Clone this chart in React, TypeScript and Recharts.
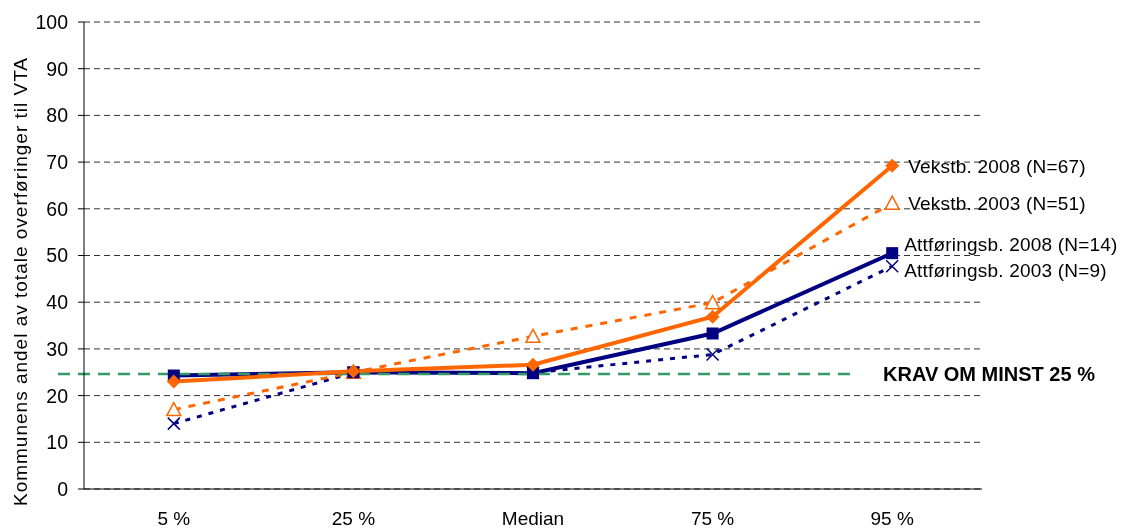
import React from "react";
import {
  CartesianGrid,
  LabelList,
  Line,
  LineChart,
  ReferenceLine,
  XAxis,
  YAxis,
} from "recharts";

const categories = ["5 %", "25 %", "Median", "75 %", "95 %"];
const vekstb2008 = [23.0, 25.2, 26.6, 36.9, 69.2];
const vekstb2003 = [17.0, 25.0, 32.7, 39.9, 61.2];
const attf2008 = [24.3, 25.0, 24.8, 33.3, 50.5];
const attf2003 = [14.0, 24.9, 24.9, 28.8, 47.7];
const seriesNames = [
  "Vekstb. 2008 (N=67)",
  "Vekstb. 2003 (N=51)",
  "Attføringsb. 2008 (N=14)",
  "Attføringsb. 2003 (N=9)",
];
const yTicks = [0, 10, 20, 30, 40, 50, 60, 70, 80, 90, 100];
const requirement = 24.6;
const requirementLabel = "KRAV OM MINST 25 %";
const yLabel = "Kommunens andel av totale overføringer til VTA";

const ORANGE = "#FF6600";
const NAVY = "#000080";
const GREEN = "#339966";
const FONT = "'Liberation Sans', Arial, sans-serif";

const data = categories.map((c, i) => ({
  cat: c,
  pos: i + 0.5,
  v08: vekstb2008[i],
  v03: vekstb2003[i],
  a08: attf2008[i],
  a03: attf2003[i],
}));

const diamond = (p: any) => (
  <polygon
    key={p.key ?? p.index}
    points={`${p.cx},${p.cy - 7} ${p.cx + 7},${p.cy} ${p.cx},${p.cy + 7} ${p.cx - 7},${p.cy}`}
    fill={ORANGE}
  />
);
const triangle = (p: any) => (
  <polygon
    key={p.key ?? p.index}
    points={`${p.cx},${p.cy - 7} ${p.cx + 7},${p.cy + 6} ${p.cx - 7},${p.cy + 6}`}
    fill="#fff"
    stroke={ORANGE}
    strokeWidth={1.5}
  />
);
const square = (p: any) => (
  <rect key={p.key ?? p.index} x={p.cx - 6} y={p.cy - 6} width={12} height={12} fill={NAVY} />
);
const cross = (p: any) => (
  <path
    key={p.key ?? p.index}
    d={`M${p.cx - 6},${p.cy - 6}L${p.cx + 6},${p.cy + 6}M${p.cx + 6},${p.cy - 6}L${p.cx - 6},${p.cy + 6}`}
    stroke={NAVY}
    strokeWidth={1.5}
  />
);

const endLabel = (name: string, dx: number, dy: number) => (props: any) => {
  if (props.index !== categories.length - 1) return null;
  return (
    <text
      x={props.x + dx}
      y={props.y + dy}
      dominantBaseline="central"
      fontSize={19}
      letterSpacing={0.2}
      fontFamily={FONT}
      fill="#000"
    >
      {name}
    </text>
  );
};

export default function App() {
  return (
    <div style={{ position: "fixed", left: 0, top: 0 }}>
      <LineChart
        width={1121}
        height={530}
        data={data}
        margin={{ top: 22, right: 139, left: 0, bottom: 0 }}
      >
        <CartesianGrid vertical={false} stroke="#333" strokeDasharray="6 4" />
        <XAxis
          dataKey="pos"
          type="number"
          domain={[0, 5]}
          ticks={[0, 1, 2, 3, 4, 5]}
          tick={false}
          tickSize={7}
          height={8}
          stroke="#000"
        />
        <XAxis
          xAxisId="labels"
          dataKey="pos"
          type="number"
          domain={[0, 5]}
          ticks={data.map((d) => d.pos)}
          tickFormatter={(v: number) => categories[Math.round(v - 0.5)]}
          axisLine={false}
          tickLine={false}
          tickSize={6}
          tickMargin={8.5}
          height={33}
          tick={{ fontSize: 19, fontFamily: FONT, fill: "#000" }}
        />
        <YAxis
          domain={[0, 100]}
          ticks={yTicks}
          width={84}
          tickSize={6}
          tickMargin={10}
          stroke="#000"
          tick={{ fontSize: 19.5, fontFamily: FONT, fill: "#000" }}
          label={{
            content: (p: any) => {
              const vb = p.viewBox;
              const cx = vb.x + 20;
              const cy = vb.y + vb.height / 2 + 26;
              return (
                <text
                  x={cx}
                  y={cy}
                  transform={`rotate(-90 ${cx} ${cy})`}
                  textAnchor="middle"
                  dominantBaseline="central"
                  fontSize={19}
                  letterSpacing={1}
                  fontFamily={FONT}
                  fill="#000"
                >
                  {yLabel}
                </text>
              );
            },
          }}
        />
        <Line
          dataKey="a03"
          stroke={NAVY}
          strokeWidth={3}
          strokeDasharray="5 7"
          dot={cross}
          isAnimationActive={false}
        >
          <LabelList dataKey="a03" content={endLabel(seriesNames[3], 12, 4)} />
        </Line>
        <Line
          dataKey="v03"
          stroke={ORANGE}
          strokeWidth={3}
          strokeDasharray="7 8"
          dot={triangle}
          isAnimationActive={false}
        >
          <LabelList dataKey="v03" content={endLabel(seriesNames[1], 16, 0)} />
        </Line>
        <Line
          dataKey="a08"
          stroke={NAVY}
          strokeWidth={4}
          dot={square}
          isAnimationActive={false}
        >
          <LabelList dataKey="a08" content={endLabel(seriesNames[2], 12, -9)} />
        </Line>
        <ReferenceLine
          segment={[
            { x: -0.145, y: requirement },
            { x: 4.31, y: requirement },
          ]}
          ifOverflow="visible"
          stroke={GREEN}
          strokeWidth={2.5}
          strokeDasharray="12 8"
          label={{
            value: requirementLabel,
            position: "right",
            offset: 25,
            fontSize: 20,
            fontWeight: "bold",
            fontFamily: FONT,
            fill: "#000",
          }}
        />
        <Line
          dataKey="v08"
          stroke={ORANGE}
          strokeWidth={4}
          dot={diamond}
          isAnimationActive={false}
        >
          <LabelList dataKey="v08" content={endLabel(seriesNames[0], 16, 1)} />
        </Line>
      </LineChart>
    </div>
  );
}
